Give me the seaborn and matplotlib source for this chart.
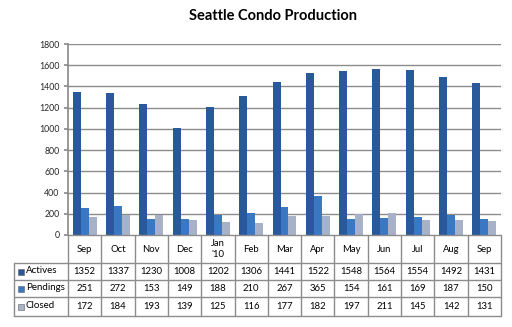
import numpy as np
import pandas as pd
import seaborn as sns
import matplotlib
matplotlib.use("Agg")
import matplotlib.pyplot as plt
from matplotlib.lines import Line2D
from matplotlib.patches import Rectangle

months = ["Sep", "Oct", "Nov", "Dec", "Jan\n'10", "Feb", "Mar", "Apr", "May", "Jun", "Jul", "Aug", "Sep"]
actives = [1352, 1337, 1230, 1008, 1202, 1306, 1441, 1522, 1548, 1564, 1554, 1492, 1431]
pendings = [251, 272, 153, 149, 188, 210, 267, 365, 154, 161, 169, 187, 150]
closed = [172, 184, 193, 139, 125, 116, 177, 182, 197, 211, 145, 142, 131]
series = ["Actives", "Pendings", "Closed"]
yticks = list(range(0, 1801, 200))
colors = ["#29599a", "#3b78c4", "#a7b2c8"]

sns.set_theme(style="white")
plt.rcParams["font.family"] = ["Lato", "DejaVu Sans"]

W, H = 512, 327
fig = plt.figure(figsize=(W / 100, H / 100), dpi=100)
L, R, T, B = 68, 501, 44, 235
ax = fig.add_axes([L / W, 1 - B / H, (R - L) / W, (B - T) / H])

idx = [f"c{i}" for i in range(len(months))]
df = pd.DataFrame({"cat": idx * 3,
                   "series": sum([[s] * len(months) for s in series], []),
                   "value": actives + pendings + closed})
sns.barplot(data=df, x="cat", y="value", hue="series", palette=colors,
            width=0.72, gap=0, ax=ax, legend=False, edgecolor="none", saturation=1)

ax.set_ylim(0, 1800)
ax.set_xlim(-0.5, len(months) - 0.5)
ax.set_yticks(yticks)
ax.set_yticklabels([str(v) for v in yticks], fontsize=6.3)
ax.set_xticks([])
ax.set_xlabel("")
ax.set_ylabel("")
for v in yticks[1:]:
    ax.axhline(v, color="#8c8c8c", lw=1, zorder=0)
for s in ["top", "right", "bottom"]:
    ax.spines[s].set_visible(False)
ax.spines["left"].set_color("#8c8c8c")
ax.tick_params(axis="y", length=3, color="#8c8c8c", left=True, pad=3)

fig.text(273 / W, 1 - 16 / H, "Seattle Condo Production", ha="center", va="center",
         fontsize=10.5, fontweight="bold", color="black")

# table drawn in pixel coords
def px(x, y):
    return x / W, 1 - y / H

def line(x0, y0, x1, y1):
    (a, b), (c, d) = px(x0, y0), px(x1, y1)
    fig.add_artist(Line2D([a, c], [b, d], color="#8c8c8c", lw=1))

TL = 14
rows_y = [235, 263, 280, 297, 316]
line(L, 235, R, 235)
for y in rows_y[1:]:
    line(TL, y, R, y)
line(TL, 263, TL, 316)
cw = (R - L) / len(months)
for i in range(len(months) + 1):
    x = L + i * cw
    line(x, 235, x, 316)

for i, m in enumerate(months):
    cx = L + (i + 0.5) * cw
    fig.text(*px(cx, 249), m, ha="center", va="center", fontsize=6.8, color="black",
             linespacing=1.3)
    for r, vals in enumerate([actives, pendings, closed]):
        cy = (rows_y[r + 1] + rows_y[r + 2]) / 2
        fig.text(*px(cx, cy), str(vals[i]), ha="center", va="center", fontsize=6.8, color="black")

for r, s in enumerate(series):
    cy = (rows_y[r + 1] + rows_y[r + 2]) / 2
    x0, y0 = px(18, cy + 3)
    fig.add_artist(Rectangle((x0, y0), 6 / W, 6 / H, transform=fig.transFigure,
                             facecolor=colors[r], edgecolor="#606060", lw=0.4))
    fig.text(*px(26, cy - 1), s, ha="left", va="center", fontsize=7, color="black")

fig.savefig("out.png", dpi=100, facecolor="white")
